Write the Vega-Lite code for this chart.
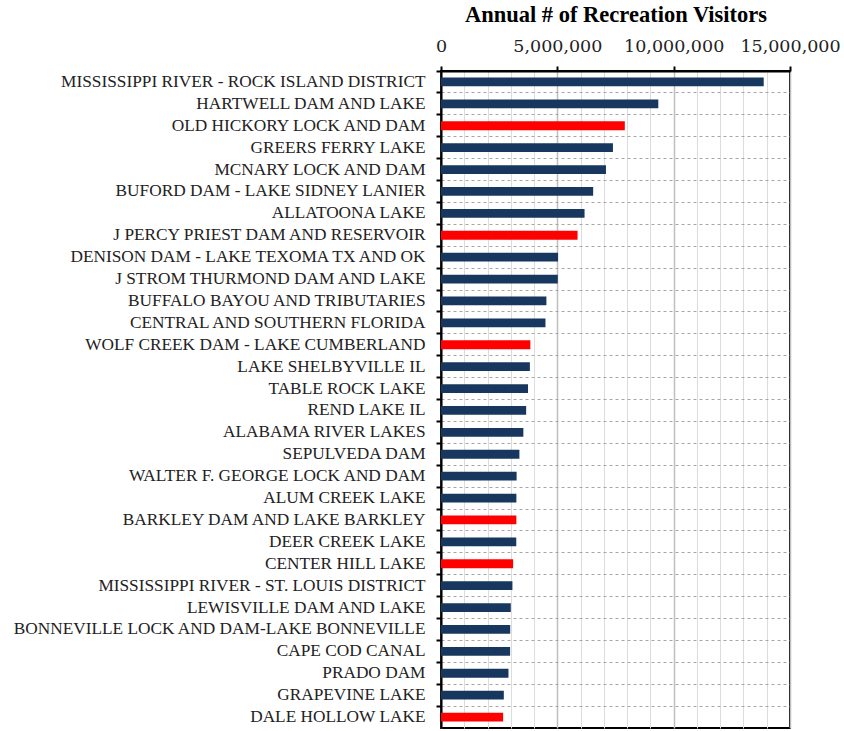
{
  "$schema": "https://vega.github.io/schema/vega-lite/v6.json",
  "width": 349,
  "height": 657,
  "autosize": {"type": "none"},
  "padding": {"left": 441, "top": 71, "right": 54, "bottom": 3},
  "background": "white",
  "config": {
    "view": {"stroke": "black", "strokeWidth": 2},
    "font": "Liberation Serif"
  },
  "data": {
    "values": [
      {"project": "MISSISSIPPI RIVER - ROCK ISLAND DISTRICT", "visitors": 13870000, "district": "Other"},
      {"project": "HARTWELL DAM AND LAKE", "visitors": 9340000, "district": "Other"},
      {"project": "OLD HICKORY LOCK AND DAM", "visitors": 7900000, "district": "Nashville"},
      {"project": "GREERS FERRY LAKE", "visitors": 7390000, "district": "Other"},
      {"project": "MCNARY LOCK AND DAM", "visitors": 7090000, "district": "Other"},
      {"project": "BUFORD DAM - LAKE SIDNEY LANIER", "visitors": 6540000, "district": "Other"},
      {"project": "ALLATOONA LAKE", "visitors": 6170000, "district": "Other"},
      {"project": "J PERCY PRIEST DAM AND RESERVOIR", "visitors": 5870000, "district": "Nashville"},
      {"project": "DENISON DAM - LAKE TEXOMA TX AND OK", "visitors": 5030000, "district": "Other"},
      {"project": "J STROM THURMOND DAM AND LAKE", "visitors": 5020000, "district": "Other"},
      {"project": "BUFFALO BAYOU AND TRIBUTARIES", "visitors": 4530000, "district": "Other"},
      {"project": "CENTRAL AND SOUTHERN FLORIDA", "visitors": 4490000, "district": "Other"},
      {"project": "WOLF CREEK DAM - LAKE CUMBERLAND", "visitors": 3840000, "district": "Nashville"},
      {"project": "LAKE SHELBYVILLE IL", "visitors": 3820000, "district": "Other"},
      {"project": "TABLE ROCK LAKE", "visitors": 3740000, "district": "Other"},
      {"project": "REND LAKE IL", "visitors": 3660000, "district": "Other"},
      {"project": "ALABAMA RIVER LAKES", "visitors": 3540000, "district": "Other"},
      {"project": "SEPULVEDA DAM", "visitors": 3370000, "district": "Other"},
      {"project": "WALTER F. GEORGE LOCK AND DAM", "visitors": 3250000, "district": "Other"},
      {"project": "ALUM CREEK LAKE", "visitors": 3240000, "district": "Other"},
      {"project": "BARKLEY DAM AND LAKE BARKLEY", "visitors": 3240000, "district": "Nashville"},
      {"project": "DEER CREEK LAKE", "visitors": 3235000, "district": "Other"},
      {"project": "CENTER HILL LAKE", "visitors": 3100000, "district": "Nashville"},
      {"project": "MISSISSIPPI RIVER - ST. LOUIS DISTRICT", "visitors": 3070000, "district": "Other"},
      {"project": "LEWISVILLE DAM AND LAKE", "visitors": 3000000, "district": "Other"},
      {"project": "BONNEVILLE LOCK AND DAM-LAKE BONNEVILLE", "visitors": 2975000, "district": "Other"},
      {"project": "CAPE COD CANAL", "visitors": 2970000, "district": "Other"},
      {"project": "PRADO DAM", "visitors": 2900000, "district": "Other"},
      {"project": "GRAPEVINE LAKE", "visitors": 2700000, "district": "Other"},
      {"project": "DALE HOLLOW LAKE", "visitors": 2670000, "district": "Nashville"}
    ]
  },
  "mark": {"type": "bar", "height": {"band": 0.4}},
  "encoding": {
    "y": {
      "field": "project",
      "type": "nominal",
      "sort": null,
      "scale": {"paddingInner": 0, "paddingOuter": 0},
      "axis": {
        "title": null,
        "bandPosition": 0,
        "grid": true,
        "gridColor": "#a6a6a6",
        "gridDash": [3, 3],
        "gridWidth": 1,
        "domainColor": "black",
        "domainWidth": 2,
        "tickColor": "black",
        "tickWidth": 2,
        "tickSize": 5,
        "labelPadding": 11,
        "labelFont": "Liberation Serif",
        "labelFontSize": 17.3,
        "labelColor": "#222222",
        "labelLimit": 500
      }
    },
    "x": {
      "field": "visitors",
      "type": "quantitative",
      "scale": {"domain": [0, 15000000], "nice": false},
      "axis": {
        "orient": "top",
        "title": "Annual # of Recreation Visitors",
        "titleFont": "Liberation Serif",
        "titleFontSize": 22.5,
        "titleFontWeight": "bold",
        "titleColor": "black",
        "titlePadding": 11,
        "values": [0, 1000000, 2000000, 3000000, 4000000, 5000000, 6000000, 7000000, 8000000, 9000000, 10000000, 11000000, 12000000, 13000000, 14000000, 15000000],
        "labelExpr": "datum.value % 5000000 === 0 ? format(datum.value, ',d') : ''",
        "labelFont": "DejaVu Serif",
        "labelFontSize": 17.5,
        "labelColor": "#222222",
        "labelPadding": 11,
        "labelOverlap": false,
        "labelFlush": false,
        "grid": true,
        "gridColor": {"condition": {"test": "datum.value % 5000000 === 0", "value": "#bfbfbf"}, "value": "#dcdcdc"},
        "gridWidth": {"condition": {"test": "datum.value % 5000000 === 0", "value": 1.5}, "value": 1},
        "domainColor": "black",
        "domainWidth": 2,
        "tickColor": "black",
        "tickWidth": 2,
        "tickSize": 5,
        "tickOpacity": {"condition": {"test": "datum.value % 5000000 === 0", "value": 1}, "value": 0}
      }
    },
    "color": {
      "field": "district",
      "type": "nominal",
      "scale": {"domain": ["Other", "Nashville"], "range": ["#17375E", "#FF0000"]},
      "legend": null
    }
  }
}
